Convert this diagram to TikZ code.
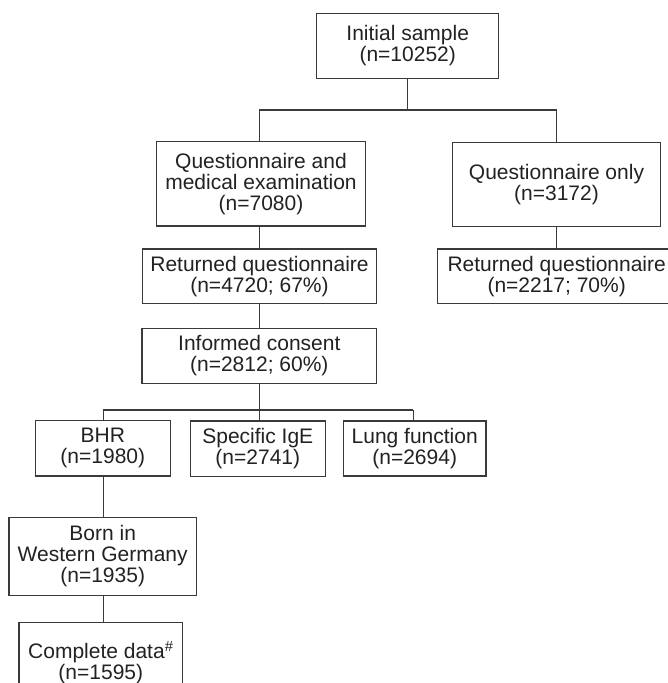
\documentclass[tikz,border=0pt]{standalone}
\usepackage{fontspec}
\setmainfont{Liberation Sans}
\definecolor{ink}{HTML}{222222}
\definecolor{wire}{HTML}{3A3A3A}
\begin{document}
\begin{tikzpicture}[x=1pt,y=-1pt,
  box/.style={draw=wire,line width=1.2pt,inner sep=0pt,align=center,text=ink,
    font=\fontsize{21}{21}\selectfont},
  wireline/.style={draw=wire,line width=1.2pt}]
\useasboundingbox (0,0) rectangle (667,683);
\fill[white] (0,0) rectangle (667,683);
% boxes
\node[box,minimum width=182pt,minimum height=65.4pt] (init) at (407.7,46) {Initial sample\\(n=10252)};
\node[box,minimum width=208.6pt,minimum height=84.3pt] (qm) at (261,183.9) {Questionnaire and\\medical examination\\(n=7080)};
\node[box,minimum width=208.4pt,minimum height=84pt] (qo) at (556.5,184.7) {Questionnaire only\\(n=3172)};
\node[box,minimum width=234.4pt,minimum height=54.5pt] (rq1) at (259.5,276.3) {Returned questionnaire\\(n=4720; 67\%)};
\node[box,minimum width=238pt,minimum height=54.5pt] (rq2) at (556.7,276.3) {Returned questionnaire\\(n=2217; 70\%)};
\node[box,minimum width=234.7pt,minimum height=55pt] (ic) at (259.3,355.8) {Informed consent\\(n=2812; 60\%)};
\node[box,minimum width=135pt,minimum height=55.7pt] (bhr) at (102.8,448.2) {BHR\\(n=1980)};
\node[box,minimum width=135pt,minimum height=55.7pt] (sige) at (257.8,448.8) {Specific IgE\\(n=2741)};
\node[box,minimum width=142.7pt,minimum height=55pt] (lung) at (414.7,448.5) {Lung function\\(n=2694)};
\node[box,minimum width=187.3pt,minimum height=78.2pt] (born) at (102.7,556.4) {Born in\\Western Germany\\(n=1935)};
\node[box,minimum width=163.7pt,minimum height=80pt] (comp) at (100.8,662.7) {Complete data\textsuperscript{\#}\\(n=1595)};
% reference x positions
\coordinate (xL) at (259.3,0);
\coordinate (xR) at (556.7,0);
\coordinate (xB) at (103.3,0);
\coordinate (xG) at (413.3,0);
% connectors
\draw[wireline] (init.south) -- ++(0,30.6) coordinate (j1);
\draw[wireline] (j1 -| xL) -- (j1 -| xR);
\draw[wireline] (j1 -| xL) -- (qm.north -| xL);
\draw[wireline] (j1 -| xR) -- (qo.north -| xR);
\draw[wireline] (qm.south -| xL) -- (rq1.north -| xL);
\draw[wireline] (qo.south -| xR) -- (rq2.north -| xR);
\draw[wireline] (rq1.south -| xL) -- (ic.north -| xL);
\draw[wireline] (ic.south -| xL) -- ++(0,26) coordinate (j2);
\draw[wireline] (j2 -| xB) -- (j2 -| xG);
\draw[wireline] (j2 -| xB) -- (bhr.north -| xB);
\draw[wireline] (j2) -- (sige.north -| xL);
\draw[wireline] (j2 -| xG) -- (lung.north -| xG);
\draw[wireline] (bhr.south -| xB) -- (born.north -| xB);
\draw[wireline] (born.south -| xB) -- (comp.north -| xB);
\end{tikzpicture}
\end{document}
